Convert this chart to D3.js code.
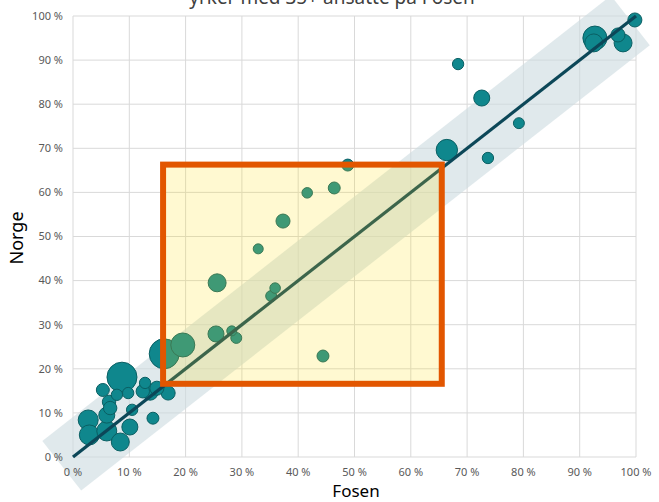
<!DOCTYPE html>
<html>
<head>
<meta charset="utf-8">
<script src="https://cdn.jsdelivr.net/npm/d3@7"></script>
<style>
  body { margin: 0; background: #fff; }
  svg { display: block; }
</style>
</head>
<body>
<script>
// andel (0-1) per yrke, Fosen vs Norge, boblestørrelse = antall ansatte
var fosen = [0.927, 0.925, 0.968, 0.977, 0.998, 0.684, 0.726, 0.792, 0.664, 0.737,
  0.488, 0.464, 0.416, 0.373, 0.329, 0.256, 0.359, 0.352, 0.254, 0.282, 0.290, 0.444,
  0.195, 0.162, 0.087, 0.053, 0.078, 0.098, 0.128, 0.124, 0.137, 0.169, 0.149,
  0.064, 0.066, 0.105, 0.142, 0.027, 0.060, 0.101, 0.029, 0.060, 0.084]
var norge = [0.950, 0.939, 0.957, 0.939, 0.991, 0.891, 0.814, 0.757, 0.696, 0.678,
  0.662, 0.610, 0.599, 0.535, 0.472, 0.395, 0.383, 0.365, 0.279, 0.286, 0.270, 0.229,
  0.254, 0.234, 0.181, 0.152, 0.141, 0.145, 0.168, 0.149, 0.147, 0.145, 0.156,
  0.125, 0.111, 0.107, 0.088, 0.084, 0.095, 0.068, 0.050, 0.059, 0.034]
var ansatte = [202, 113, 69, 113, 69, 45, 90, 42, 160, 45,
  50, 50, 39, 69, 35, 113, 39, 42, 90, 35, 42, 50,
  202, 315, 315, 59, 45, 45, 45, 63, 90, 69, 69,
  63, 63, 45, 50, 140, 90, 90, 140, 140, 113]

var ticks = [0, 0.1, 0.2, 0.3, 0.4, 0.5, 0.6, 0.7, 0.8, 0.9, 1]
var boxX = [0.16, 0.655]
var boxY = [0.166, 0.663]
var band = [-0.02, 0.99]

var width = 659, height = 502
var margin = {top: 16, right: 23, bottom: 45, left: 73}
var w = width - margin.left - margin.right
var h = height - margin.top - margin.bottom

var svg = d3.select('body').append('svg').attr('width', width).attr('height', height)
var g = svg.append('g').attr('transform', `translate(${margin.left},${margin.top})`)

var x = d3.scaleLinear().domain([0, 1]).range([0, w])
var y = d3.scaleLinear().domain([0, 1]).range([h, 0])
var r = d3.scaleSqrt().domain([0, 35]).range([0, 5])
var fmt = function(d) { return Math.round(d * 100) + ' %' }

// gridlines
g.append('g').selectAll('line').data(ticks).enter().append('line')
  .attr('x1', 0).attr('x2', w).attr('y1', d => y(d)).attr('y2', d => y(d))
  .attr('stroke', '#d9d9d9').attr('stroke-width', 1)
g.append('g').selectAll('line').data(ticks).enter().append('line')
  .attr('y1', 0).attr('y2', h).attr('x1', d => x(d)).attr('x2', d => x(d))
  .attr('stroke', '#d9d9d9').attr('stroke-width', 1)

// band around the diagonal
var p0 = [x(band[0]), y(band[0])], p1 = [x(band[1]), y(band[1])]
var len = Math.hypot(p1[0] - p0[0], p1[1] - p0[1])
var ux = (p1[0] - p0[0]) / len, uy = (p1[1] - p0[1]) / len
var hw = 31.5
var nx = -uy * hw, ny = ux * hw
g.append('polygon')
  .attr('points', [[p0[0] + nx, p0[1] + ny], [p1[0] + nx, p1[1] + ny], [p1[0] - nx, p1[1] - ny], [p0[0] - nx, p0[1] - ny]].map(p => p.join(',')).join(' '))
  .attr('fill', '#cddbe0').attr('opacity', 0.62)

// bubbles
var pts = fosen.map(function(f, i) { return {x: f, y: norge[i], n: ansatte[i]} })
pts.sort(function(a, b) { return b.n - a.n })
g.append('g').selectAll('circle').data(pts).enter().append('circle')
  .attr('cx', d => x(d.x)).attr('cy', d => y(d.y)).attr('r', d => r(d.n))
  .attr('fill', '#0f878d').attr('stroke', '#0a5f63').attr('stroke-width', 1)

// diagonal
g.append('line')
  .attr('x1', x(0)).attr('y1', y(0)).attr('x2', x(1)).attr('y2', y(1))
  .attr('stroke', '#0c4758').attr('stroke-width', 3.2)

// highlight box
g.append('rect')
  .attr('x', x(boxX[0])).attr('y', y(boxY[1]))
  .attr('width', x(boxX[1]) - x(boxX[0])).attr('height', y(boxY[0]) - y(boxY[1]))
  .attr('fill', '#ffe21a').attr('fill-opacity', 0.2)
  .attr('stroke', '#e25600').attr('stroke-width', 6)

// tick labels
g.append('g').selectAll('text').data(ticks).enter().append('text')
  .attr('x', -10).attr('y', d => y(d)).attr('dy', '0.35em')
  .attr('text-anchor', 'end').attr('font-family', 'Noto Sans, sans-serif')
  .attr('font-size', 11).attr('fill', '#595959').text(fmt)
g.append('g').selectAll('text').data(ticks).enter().append('text')
  .attr('x', d => x(d)).attr('y', h + 19)
  .attr('text-anchor', 'middle').attr('font-family', 'Noto Sans, sans-serif')
  .attr('font-size', 11).attr('fill', '#595959').text(fmt)

// axis titles
svg.append('text').attr('x', 356).attr('y', 497).attr('text-anchor', 'middle')
  .attr('font-family', 'Noto Sans, sans-serif').attr('font-size', 17).attr('fill', '#000')
  .text('Fosen')
svg.append('text').attr('transform', 'translate(23,238) rotate(-90)').attr('text-anchor', 'middle')
  .attr('font-family', 'Noto Sans, sans-serif').attr('font-size', 18).attr('fill', '#000')
  .text('Norge')

// title (second line, top cut off like the original)
svg.append('text').attr('x', 332).attr('y', 4).attr('text-anchor', 'middle')
  .attr('font-family', 'Noto Sans, sans-serif').attr('font-size', 19).attr('fill', '#404040')
  .text('yrker med 35+ ansatte på Fosen')
</script>
</body>
</html>
